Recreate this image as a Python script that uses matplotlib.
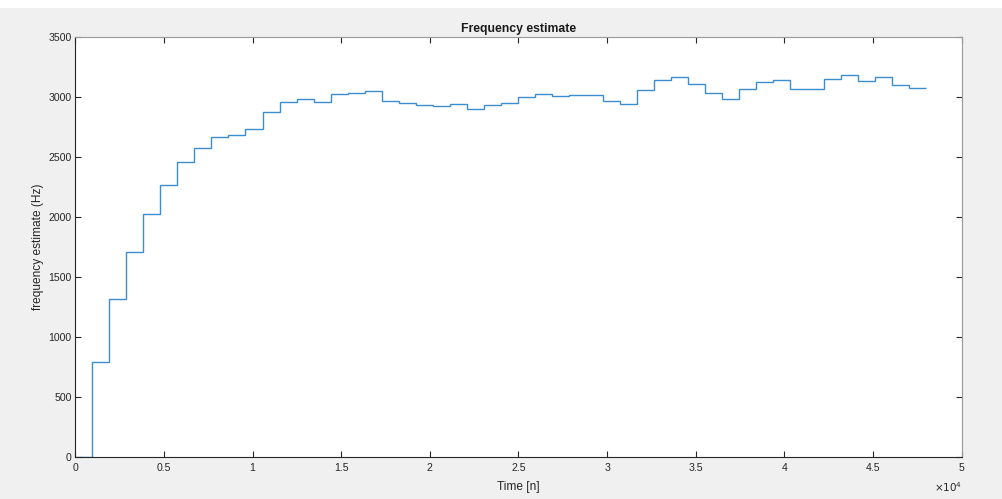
import matplotlib.pyplot as plt
from matplotlib.ticker import FuncFormatter, MultipleLocator

# one estimate per block of 960 samples, 50 blocks (0 .. 48000)
block_len = 960
freq_est = [0, 790, 1317, 1711, 2022, 2266, 2460, 2571, 2663, 2682,
            2732, 2876, 2957, 2982, 2955, 3021, 3028, 3052, 2964, 2951,
            2929, 2921, 2940, 2901, 2929, 2946, 2996, 3021, 3009, 3015,
            3015, 2965, 2940, 3057, 3140, 3162, 3109, 3034, 2979, 3065,
            3123, 3142, 3067, 3062, 3151, 3182, 3132, 3162, 3096, 3071]
edges = [i * block_len for i in range(len(freq_est) + 1)]

plt.rcParams['font.family'] = ['Liberation Sans', 'DejaVu Sans']

fig = plt.figure(figsize=(10.03, 4.99), dpi=100)
fig.patch.set_facecolor('#f0f0f0')
# thin white strip along the top of the window
fig.patches.append(plt.Rectangle((0, 1 - 8 / 499), 1, 8 / 499, transform=fig.transFigure,
                                 facecolor='white', edgecolor='none', zorder=-1))

ax = fig.add_axes([75.3 / 1003, 1 - 457.3 / 499, 886.4 / 1003, 420.6 / 499])
ax.stairs(freq_est, edges, baseline=None, color='#3a8dcf', linewidth=1.0)

ax.set_xlim(0, 50000)
ax.set_ylim(0, 3500)
ax.xaxis.set_major_locator(MultipleLocator(5000))
ax.yaxis.set_major_locator(MultipleLocator(500))
ax.xaxis.set_major_formatter(FuncFormatter(lambda v, p: '%g' % (v / 1e4)))

ax.tick_params(direction='in', length=4.5, width=0.8, colors='#262626',
               labelsize=7.6, top=True, right=True)
ax.tick_params(axis='x', pad=4)
ax.tick_params(axis='y', pad=2.5)
for s in ['left', 'bottom']:
    ax.spines[s].set_color('#262626')
for s in ['top', 'right']:
    ax.spines[s].set_color('#999999')
for s in ax.spines.values():
    s.set_linewidth(0.8)

ax.set_title('Frequency estimate', fontsize=8.8, fontweight='bold', color='#1a1a1a', pad=3.5)
ax.set_xlabel('Time [n]', fontsize=8.6, color='#262626')
ax.set_ylabel('frequency estimate (Hz)', fontsize=8.6, color='#262626')
ax.xaxis.set_label_coords(0.5, -0.0565)
ax.yaxis.set_label_coords(-0.0354, 0.5)
ax.text(0.985, -0.07, r'$\times 10^{4}$', transform=ax.transAxes, ha='center', va='center',
        fontsize=7.5, color='#262626')

fig.savefig('out.png', dpi=100, facecolor=fig.get_facecolor())
